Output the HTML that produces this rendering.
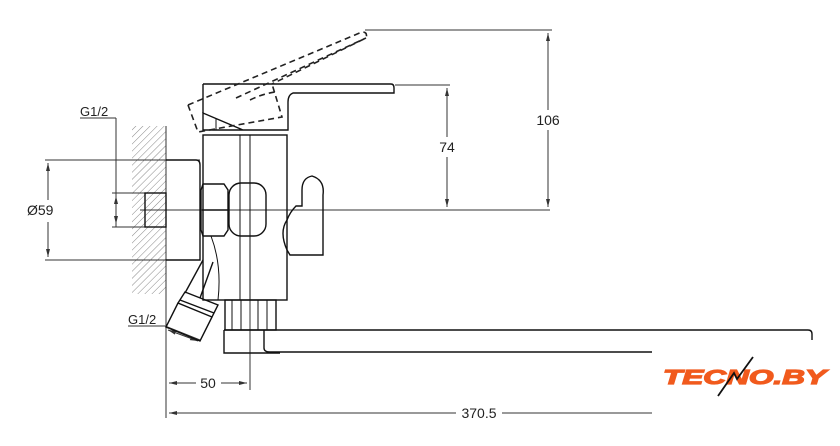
<!DOCTYPE html>
<html><head><meta charset="utf-8"><style>
html,body{margin:0;padding:0;background:#fff}
svg{display:block}
text{font-family:"Liberation Sans",sans-serif;fill:#222}
</style></head><body>
<svg width="840" height="446" viewBox="0 0 840 446" xmlns="http://www.w3.org/2000/svg">
<defs>
<pattern id="h" width="5" height="5" patternUnits="userSpaceOnUse" patternTransform="rotate(45)">
<line x1="0" y1="0" x2="0" y2="5" stroke="#888" stroke-width="1"/>
</pattern>
<marker id="a" markerWidth="8" markerHeight="6" refX="8" refY="3" orient="auto-start-reverse" markerUnits="userSpaceOnUse">
<path d="M0,1 L8,3 L0,5 z" fill="#333"/>
</marker>
</defs>
<g fill="none" stroke="#333" stroke-width="1">
<rect x="132" y="126" width="34" height="168" fill="url(#h)" stroke="none"/>
<line x1="166" y1="126" x2="166" y2="418"/>
<line x1="45" y1="160" x2="200" y2="160"/>
<line x1="45" y1="260" x2="200" y2="260"/>
<line x1="48" y1="163" x2="48" y2="200" marker-start="url(#a)"/>
<line x1="48" y1="222" x2="48" y2="257" marker-end="url(#a)"/>
<line x1="80" y1="118" x2="116" y2="118"/>
<line x1="116" y1="118" x2="116" y2="227"/>
<line x1="112" y1="193" x2="145" y2="193"/>
<line x1="112" y1="227" x2="145" y2="227"/>
<line x1="116" y1="196" x2="116" y2="224" marker-start="url(#a)" marker-end="url(#a)"/>
<line x1="140" y1="210" x2="550" y2="210"/>
<line x1="365" y1="30" x2="552" y2="30"/>
<line x1="395" y1="85" x2="450" y2="85"/>
<line x1="548" y1="33" x2="548" y2="110" marker-start="url(#a)"/>
<line x1="548" y1="130" x2="548" y2="207" marker-end="url(#a)"/>
<line x1="447" y1="88" x2="447" y2="137" marker-start="url(#a)"/>
<line x1="447" y1="157" x2="447" y2="207" marker-end="url(#a)"/>
<line x1="250" y1="300" x2="250" y2="390"/>
<line x1="169" y1="383" x2="196" y2="383" marker-start="url(#a)"/>
<line x1="221" y1="383" x2="247" y2="383" marker-end="url(#a)"/>
<line x1="169" y1="413" x2="456" y2="413" marker-start="url(#a)"/>
<line x1="502" y1="413" x2="652" y2="413"/>
<line x1="128" y1="326" x2="165" y2="326"/>
<line x1="165" y1="326" x2="200" y2="340"/>
<line x1="168" y1="330" x2="198" y2="341" marker-start="url(#a)" marker-end="url(#a)"/>
<g stroke="#111" stroke-width="1.4">
<rect x="145" y="193" width="21" height="34"/>
<path d="M166,160 H196 Q200,160 200,165 V260 H166"/>
<rect x="203" y="135" width="84" height="165"/>
<line x1="240" y1="135" x2="240" y2="300" stroke-width="1"/>
<line x1="250" y1="135" x2="250" y2="300" stroke-width="1"/>
<path d="M203,84 H391 Q394,84 394,88 V93 H293 Q288,95 288,102 V130 H203 V113 L243,130"/>
<line x1="203" y1="84" x2="203" y2="113"/>
<line x1="216" y1="118" x2="216" y2="130" stroke-width="1"/>
<path d="M203,184 H224 L228,190 V230 L224,236 H203 L201,230 V190 Z"/>
<line x1="202" y1="210" x2="228" y2="210"/>
<rect x="229" y="183" width="37" height="53" rx="12"/>
<path d="M287,220 Q279,232 287,250 L290,255 H323 V195 Q325,180 312,176 Q302,178 302,190 V206 H296 Q290,212 287,220"/>
<path d="M203,260 L185,293"/>
<path d="M213,262 L200,298"/>
<path d="M211,236 Q222,265 218,300" stroke-width="1"/>
<path d="M185,292 L218,305 L212,317 L178,303 Z"/>
<line x1="180" y1="300" x2="214" y2="313"/>
<path d="M178,303 L166,327 L200,341 L212,317"/>
<rect x="225" y="300" width="51" height="30"/>
<line x1="232" y1="300" x2="232" y2="330" stroke-width="1"/>
<line x1="241" y1="300" x2="241" y2="330" stroke-width="1"/>
<line x1="258" y1="300" x2="258" y2="330" stroke-width="1"/>
<line x1="267" y1="300" x2="267" y2="330" stroke-width="1"/>
<path d="M224,330 H808 Q812,330 812,334 V340"/>
<path d="M224,330 V353 H280 M264,330 V348 Q264,352 270,352 H652"/>
</g>
<g stroke="#222" stroke-width="1.6" stroke-dasharray="6,4">
<path d="M188,105 L198,132 L282,117 L272,84 M188,105 L362,32 Q368,32 366,38 L272,84"/>
<path d="M236,98 L366,38"/>
<path d="M250,100 Q262,94 275,92"/>
</g>
</g>
<text x="80" y="116" font-size="13">G1/2</text>
<text x="128" y="324" font-size="13">G1/2</text>
<text x="27" y="215" font-size="14">Ø59</text>
<text x="548" y="125" font-size="14" text-anchor="middle">106</text>
<text x="447" y="152" font-size="14" text-anchor="middle">74</text>
<text x="208" y="388" font-size="14" text-anchor="middle">50</text>
<text x="479" y="418" font-size="14" text-anchor="middle">370.5</text>
<text x="663" y="384" font-size="20" font-weight="bold" font-style="italic" style="fill:#f15a1d;stroke:#f15a1d;stroke-width:1.2" textLength="163" lengthAdjust="spacingAndGlyphs">TECNO.BY</text>
<path d="M718,396 L734,373 L737,379 L753,357" fill="none" stroke="#111" stroke-width="1.8"/>
</svg>
</body></html>
